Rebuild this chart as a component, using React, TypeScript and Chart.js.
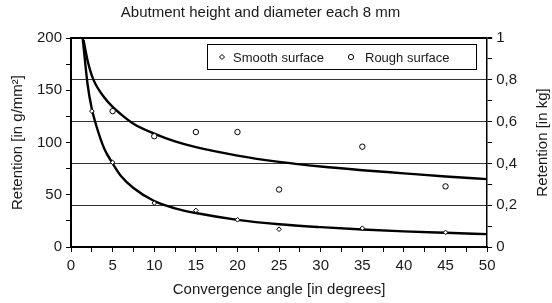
import React, { useEffect, useRef } from "react";
import { Chart, registerables } from "chart.js";

Chart.register(...registerables);

const TITLE = "Abutment height and diameter each 8 mm";
const X_TITLE = "Convergence angle [in degrees]";
const Y_TITLE = "Retention [in g/mm²]";
const Y2_TITLE = "Retention [in kg]";
const SERIES_NAMES = ["Smooth surface", "Rough surface"];

const SMOOTH_X = [2.5, 5, 10, 15, 20, 25, 35, 45];
const SMOOTH_Y = [130, 81, 42, 35, 26, 17, 18, 14];
const ROUGH_X = [5, 10, 15, 20, 25, 35, 45];
const ROUGH_Y = [130, 106, 110, 110, 55, 96, 58];

const SMOOTH_FIT_X = [1.4, 2, 2.5, 3, 4, 5, 6, 7.5, 10, 12.5, 15, 20, 25, 30, 35, 40, 45, 50];
const SMOOTH_FIT_Y = [200, 155, 132, 117, 94, 80, 68, 56.5, 44, 37, 32.5, 26, 21.8, 19, 16.8, 15, 13.6, 12.3];
const ROUGH_FIT_X = [1.5, 2, 2.5, 3, 4, 5, 6, 7.5, 10, 12.5, 15, 20, 25, 30, 35, 40, 45, 50];
const ROUGH_FIT_Y = [198, 178, 164, 155, 143, 134, 127, 118, 108.5, 101, 95.5, 87.5, 81.5, 77, 73.5, 70.5, 67.5, 65];

const FONT = "'Liberation Sans', Arial, sans-serif";
const TEXT = "#1a1a1a";

const pts = (xs: number[], ys: number[]) => xs.map((x, i) => ({ x, y: ys[i] }));

const sideTitlePlugin = {
  id: "sideTitle",
  afterDraw(chart: any) {
    const { ctx, chartArea } = chart;
    ctx.save();
    ctx.font = `15px ${FONT}`;
    ctx.fillStyle = TEXT;
    ctx.textAlign = "center";
    ctx.textBaseline = "middle";
    ctx.translate(543, (chartArea.top + chartArea.bottom) / 2);
    ctx.rotate(-Math.PI / 2);
    ctx.fillText(Y2_TITLE, 0, 0);
    ctx.restore();
  },
};

const boxLegendPlugin = {
  id: "boxLegend",
  afterDraw(chart: any) {
    const { ctx, chartArea } = chart;
    const w = 269;
    const h = 25;
    const x = Math.round(chartArea.right - 11 - w);
    const y = Math.round(chartArea.top + 6);
    ctx.save();
    ctx.fillStyle = "#fff";
    ctx.fillRect(x, y, w, h);
    ctx.strokeStyle = "#000";
    ctx.lineWidth = 1;
    ctx.strokeRect(x + 0.5, y + 0.5, w, h);
    const cy = y + h / 2 + 0.5;
    const dx = x + 15;
    ctx.beginPath();
    ctx.moveTo(dx, cy - 2.5);
    ctx.lineTo(dx + 2.5, cy);
    ctx.lineTo(dx, cy + 2.5);
    ctx.lineTo(dx - 2.5, cy);
    ctx.closePath();
    ctx.fillStyle = "#fff";
    ctx.fill();
    ctx.stroke();
    const ox = x + 144;
    ctx.beginPath();
    ctx.arc(ox, cy, 2.6, 0, Math.PI * 2);
    ctx.fill();
    ctx.stroke();
    ctx.font = `13px ${FONT}`;
    ctx.fillStyle = TEXT;
    ctx.textAlign = "left";
    ctx.textBaseline = "middle";
    ctx.fillText(SERIES_NAMES[0], x + 26, cy + 1);
    ctx.fillText(SERIES_NAMES[1], x + 158, cy + 1);
    ctx.restore();
  },
};

export default function App() {
  const ref = useRef<HTMLCanvasElement | null>(null);

  useEffect(() => {
    if (!ref.current) return;
    const chart = new Chart(ref.current, {
      type: "scatter",
      data: {
        datasets: [
          {
            label: SERIES_NAMES[0],
            data: pts(SMOOTH_X, SMOOTH_Y),
            showLine: false,
            pointStyle: "rectRot",
            pointRadius: 2.3,
            pointBorderWidth: 1,
            borderColor: "#000",
            backgroundColor: "#fff",
            yAxisID: "y",
            order: 0,
          },
          {
            label: SERIES_NAMES[1],
            data: pts(ROUGH_X, ROUGH_Y),
            showLine: false,
            pointStyle: "circle",
            pointRadius: 2.7,
            pointBorderWidth: 1,
            borderColor: "#000",
            backgroundColor: "#fff",
            yAxisID: "y",
            order: 0,
          },
          {
            label: "fit smooth",
            data: pts(SMOOTH_FIT_X, SMOOTH_FIT_Y),
            showLine: true,
            pointRadius: 0,
            borderColor: "#000",
            borderWidth: 2.4,
            cubicInterpolationMode: "monotone",
            yAxisID: "y",
            order: 1,
          },
          {
            label: "fit rough",
            data: pts(ROUGH_FIT_X, ROUGH_FIT_Y),
            showLine: true,
            pointRadius: 0,
            borderColor: "#000",
            borderWidth: 2.4,
            cubicInterpolationMode: "monotone",
            yAxisID: "y",
            order: 1,
          },
        ],
      },
      options: {
        animation: false,
        responsive: false,
        maintainAspectRatio: false,
        layout: { padding: { left: 0, right: 31, top: 0, bottom: 0 } },
        plugins: {
          legend: { display: false },
          tooltip: { enabled: false },
          title: {
            display: true,
            text: TITLE,
            color: TEXT,
            font: { family: FONT, size: 15, weight: "normal" },
            padding: { top: 4, bottom: 16 },
          },
        },
        scales: {
          x: {
            type: "linear",
            min: 0,
            max: 50,
            ticks: {
              stepSize: 2.5,
              autoSkip: false,
              maxRotation: 0,
              padding: 5,
              color: TEXT,
              font: { family: FONT, size: 15 },
              callback: (v: any) => (Math.round(v * 10) % 50 === 0 ? String(v) : ""),
            },
            grid: { drawOnChartArea: false, tickLength: 5, color: "#000", lineWidth: 1 },
            border: { display: true, color: "#000", width: 2 },
            title: {
              display: true,
              text: X_TITLE,
              color: TEXT,
              font: { family: FONT, size: 15 },
              padding: { top: 1, bottom: 4 },
            },
          },
          y: {
            type: "linear",
            position: "left",
            min: 0,
            max: 200,
            ticks: {
              stepSize: 25,
              autoSkip: false,
              padding: 4,
              color: TEXT,
              font: { family: FONT, size: 15 },
              callback: (v: any) => (v % 50 === 0 ? String(v) : ""),
            },
            grid: { drawOnChartArea: false, tickLength: 5, color: "#000", lineWidth: 1 },
            border: { display: true, color: "#000", width: 2 },
            title: {
              display: true,
              text: Y_TITLE,
              color: TEXT,
              font: { family: FONT, size: 15 },
              padding: { top: 9, bottom: 6 },
            },
          },
          y2: {
            type: "linear",
            position: "right",
            min: 0,
            max: 1,
            ticks: {
              stepSize: 0.1,
              autoSkip: false,
              padding: 4,
              color: TEXT,
              font: { family: FONT, size: 15 },
              callback: (v: any) => {
                const t = Math.round(v * 10);
                if (t % 2 !== 0) return "";
                if (t === 0) return "0";
                if (t === 10) return "1";
                return "0," + t;
              },
            },
            grid: {
              drawOnChartArea: true,
              tickLength: 5,
              tickColor: "#000",
              color: (c: any) => {
                const t = Math.round((c.tick?.value ?? 0) * 10);
                if (t === 10) return "#000";
                if (t > 0 && t % 2 === 0) return "#333";
                return "rgba(0,0,0,0)";
              },
              lineWidth: (c: any) => {
                const t = Math.round((c.tick?.value ?? 0) * 10);
                return t === 10 ? 2 : 1;
              },
            },
            border: { display: true, color: "#000", width: 1.5 },
          },
        },
      },
      plugins: [sideTitlePlugin, boxLegendPlugin],
    } as any);
    return () => chart.destroy();
  }, []);

  return (
    <div style={{ position: "absolute", left: 0, top: 0, width: 552, height: 303, background: "#fff" }}>
      <canvas ref={ref} width={552} height={303} />
    </div>
  );
}
